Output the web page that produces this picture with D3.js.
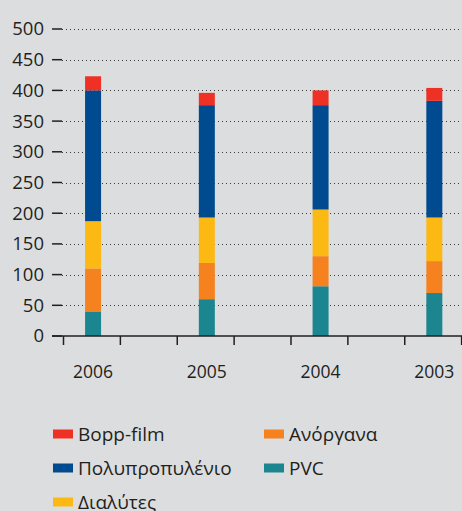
<!DOCTYPE html>
<html>
<head>
<meta charset="utf-8">
<script src="https://d3js.org/d3.v7.min.js"></script>
<style>
  body { margin: 0; background: #dcdddf; }
  svg { display: block; font-family: "Open Sans", sans-serif; }
</style>
</head>
<body>
<div id="chart"></div>
<script>
var years = ["2006", "2005", "2004", "2003"];
var seriesNames = ["PVC", "Ανόργανα", "Διαλύτες", "Πολυπροπυλένιο", "Bopp-film"];
var pvc = [40, 60, 81, 70];
var anorgana = [70, 59, 49, 52];
var dialytes = [77, 74, 76, 71];
var polyprop = [213, 183, 170, 190];
var bopp = [23, 20, 24, 21];
var yTicks = [0, 50, 100, 150, 200, 250, 300, 350, 400, 450, 500];
var colors = ["#1b8690", "#f5821f", "#fdb913", "#004a8f", "#ee3124"];

function init(){
	var w = 462;
	var h = 511;

	var svg = d3.select("#chart")
				.append("svg")
				.attr("width", w)
				.attr("height", h);

	svg.append("rect").attr("width", w).attr("height", h).attr("fill", "#dcdddf");

	// table for the stack
	var rows = years.map(function(y, i){
		return {year: y, "PVC": pvc[i], "Ανόργανα": anorgana[i], "Διαλύτες": dialytes[i],
			"Πολυπροπυλένιο": polyprop[i], "Bopp-film": bopp[i]};
	});
	var stacked = d3.stack().keys(seriesNames)(rows);

	var y = d3.scaleLinear().domain([0, 500]).range([336, 29]);
	var x = d3.scaleBand().domain(years).range([63.5, 518.5]).padding(0);
	var barW = 16;

	// dotted grid
	svg.selectAll("line.grid")
		.data(yTicks.filter(function(d){ return d > 0; }))
		.enter()
		.append("line")
		.attr("x1", 62).attr("x2", w)
		.attr("y1", function(d){ return Math.round(y(d)) + 0.5; })
		.attr("y2", function(d){ return Math.round(y(d)) + 0.5; })
		.attr("stroke", "#3a3a3a")
		.attr("stroke-width", 1)
		.attr("stroke-dasharray", "1,3");

	// bars
	svg.selectAll("g.layer")
		.data(stacked)
		.enter()
		.append("g")
		.attr("fill", function(d, i){ return colors[i]; })
		.selectAll("rect")
		.data(function(d){ return d; })
		.enter()
		.append("rect")
		.attr("x", function(d){ return x(d.data.year) + x.bandwidth() * 0.26 - barW / 2; })
		.attr("y", function(d){ return y(d[1]); })
		.attr("width", barW)
		.attr("height", function(d){ return y(d[0]) - y(d[1]); });

	// y axis ticks + labels
	svg.selectAll("line.ytick")
		.data(yTicks)
		.enter()
		.append("line")
		.attr("x1", 52).attr("x2", 62)
		.attr("y1", function(d){ return y(d); })
		.attr("y2", function(d){ return y(d); })
		.attr("stroke", "#231f20")
		.attr("stroke-width", 1.5);

	svg.selectAll("text.ylab")
		.data(yTicks)
		.enter()
		.append("text")
		.text(function(d){ return d; })
		.attr("x", 44)
		.attr("y", function(d){ return y(d); })
		.attr("dy", "0.35em")
		.attr("text-anchor", "end")
		.attr("font-size", 18.5)
		.attr("fill", "#231f20");

	// x axis line and ticks
	svg.append("line")
		.attr("x1", 52).attr("x2", w)
		.attr("y1", y(0)).attr("y2", y(0))
		.attr("stroke", "#231f20").attr("stroke-width", 1.5);

	var xTickPos = [];
	years.forEach(function(yr){
		xTickPos.push(x(yr));
		xTickPos.push(x(yr) + x.bandwidth() / 2);
	});
	svg.selectAll("line.xtick")
		.data(xTickPos)
		.enter()
		.append("line")
		.attr("x1", function(d){ return d; })
		.attr("x2", function(d){ return d; })
		.attr("y1", y(0)).attr("y2", y(0) + 9)
		.attr("stroke", "#231f20").attr("stroke-width", 1.5);

	svg.selectAll("text.xlab")
		.data(years)
		.enter()
		.append("text")
		.text(function(d){ return d; })
		.attr("x", function(d){ return x(d) + x.bandwidth() * 0.26; })
		.attr("y", 378)
		.attr("text-anchor", "middle")
		.attr("font-size", 17.5)
		.attr("fill", "#231f20");

	// legend
	var legendOrder = [4, 1, 3, 0, 2];
	var legend = svg.selectAll("g.legend")
		.data(legendOrder)
		.enter()
		.append("g")
		.attr("transform", function(d, i){
			return "translate(" + (i % 2 == 0 ? 53 : 264) + "," + (434 + Math.floor(i / 2) * 34) + ")";
		});
	legend.append("rect")
		.attr("x", 0).attr("y", -4.5)
		.attr("width", 20).attr("height", 9)
		.attr("fill", function(d){ return colors[d]; });
	legend.append("text")
		.text(function(d){ return seriesNames[d]; })
		.attr("x", 25)
		.attr("y", 0)
		.attr("dy", "0.36em")
		.attr("font-size", 19)
		.attr("fill", "#231f20");
}
window.onload = init;
</script>
</body>
</html>
